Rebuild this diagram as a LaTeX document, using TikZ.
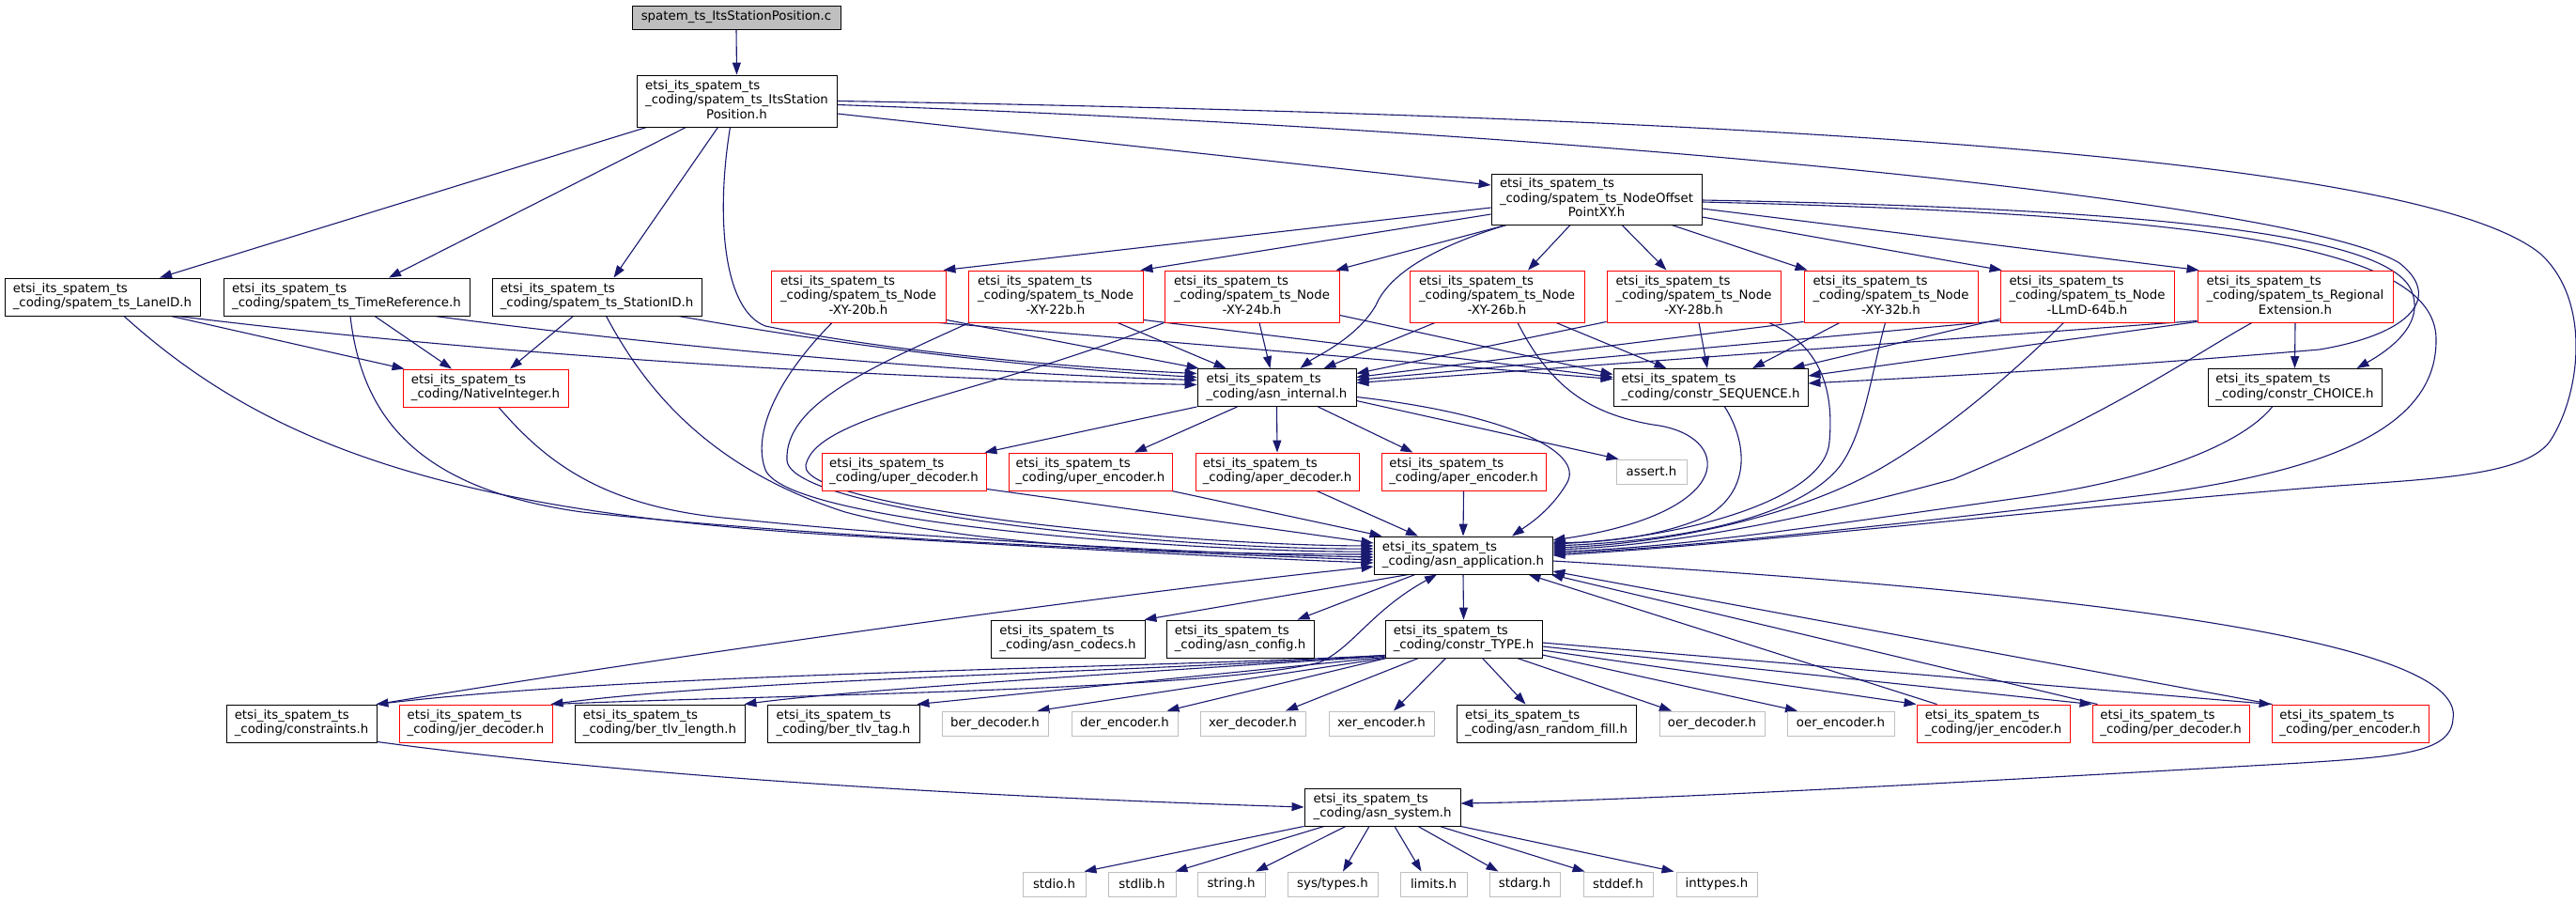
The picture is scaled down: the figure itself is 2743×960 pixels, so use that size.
\documentclass[tikz,border=0pt]{standalone}
\usepackage{fontspec}
\setmainfont{DejaVu Sans}
\usetikzlibrary{arrows.meta}
\definecolor{edgec}{HTML}{191970}
\definecolor{gbord}{HTML}{BFBFBF}
\definecolor{rootfill}{HTML}{BFBFBF}
\definecolor{redc}{HTML}{FF0000}
\newcommand\et{etsi\_its\_spatem\_ts}
\newcommand\lblB[2]{\begin{tabular}{@{}l@{}}#1\\\multicolumn{1}{@{}c@{}}{#2}\end{tabular}}
\newcommand\lblC[3]{\begin{tabular}{@{}l@{}}#1\\#2\\\multicolumn{1}{@{}c@{}}{#3}\end{tabular}}
\pgfdeclarelayer{bg}
\pgfsetlayers{bg,main}
\tikzset{
  bx/.style={rectangle, draw=black, fill=white, line width=0.9pt, inner sep=0pt, font=\fontsize{13.33pt}{15.5pt}\selectfont},
  rbx/.style={bx, draw=redc},
  gbx/.style={bx, draw=gbord},
  rootbx/.style={bx, fill=rootfill},
  wh/.style 2 args={minimum width=#1pt, minimum height=#2pt},
  conn/.style={draw=edgec, line width=1.1pt, -{Triangle[length=13pt,width=9pt]}},
}
\begin{document}
\begin{tikzpicture}[x=1pt,y=-1pt]
\useasboundingbox (0,0) rectangle (2743,960);
% nodes
\node[rootbx, wh={222}{25}] (R) at (784,18.5) {spatem\_ts\_ItsStationPosition.c};
\node[bx, wh={213}{55}] (ISP) at (784.5,107.5) {\lblC{\et}{\_coding/spatem\_ts\_ItsStation}{Position.h}};
\node[bx, wh={208}{40}] (LAN) at (109,316) {\lblB{\et}{\_coding/spatem\_ts\_LaneID.h}};
\node[bx, wh={262}{40}] (TR) at (369,316) {\lblB{\et}{\_coding/spatem\_ts\_TimeReference.h}};
\node[bx, wh={223}{40}] (SID) at (635.5,316) {\lblB{\et}{\_coding/spatem\_ts\_StationID.h}};
\node[bx, wh={224}{54}] (NOP) at (1700,212) {\lblC{\et}{\_coding/spatem\_ts\_NodeOffset}{PointXY.h}};
\node[rbx, wh={186}{55}] (X20) at (914,315.5) {\lblC{\et}{\_coding/spatem\_ts\_Node}{-XY-20b.h}};
\node[rbx, wh={186}{55}] (X22) at (1124,315.5) {\lblC{\et}{\_coding/spatem\_ts\_Node}{-XY-22b.h}};
\node[rbx, wh={186}{55}] (X24) at (1333,315.5) {\lblC{\et}{\_coding/spatem\_ts\_Node}{-XY-24b.h}};
\node[rbx, wh={186}{55}] (X26) at (1594,315.5) {\lblC{\et}{\_coding/spatem\_ts\_Node}{-XY-26b.h}};
\node[rbx, wh={185}{55}] (X28) at (1803.5,315.5) {\lblC{\et}{\_coding/spatem\_ts\_Node}{-XY-28b.h}};
\node[rbx, wh={185}{55}] (X32) at (2013.5,315.5) {\lblC{\et}{\_coding/spatem\_ts\_Node}{-XY-32b.h}};
\node[rbx, wh={185}{55}] (L64) at (2222.5,315.5) {\lblC{\et}{\_coding/spatem\_ts\_Node}{-LLmD-64b.h}};
\node[rbx, wh={208}{55}] (REG) at (2444,315.5) {\lblC{\et}{\_coding/spatem\_ts\_Regional}{Extension.h}};
\node[rbx, wh={176}{40}] (NI) at (517,413) {\lblB{\et}{\_coding/NativeInteger.h}};
\node[bx, wh={169}{40}] (AI) at (1359.5,412.5) {\lblB{\et}{\_coding/asn\_internal.h}};
\node[bx, wh={207}{40}] (SEQ) at (1821.5,412.5) {\lblB{\et}{\_coding/constr\_SEQUENCE.h}};
\node[bx, wh={185}{40}] (CHO) at (2443.5,412.5) {\lblB{\et}{\_coding/constr\_CHOICE.h}};
\node[rbx, wh={175}{40}] (UD) at (962.5,502) {\lblB{\et}{\_coding/uper\_decoder.h}};
\node[rbx, wh={174}{40}] (UE) at (1161,502) {\lblB{\et}{\_coding/uper\_encoder.h}};
\node[rbx, wh={174}{40}] (AD) at (1360,502) {\lblB{\et}{\_coding/aper\_decoder.h}};
\node[rbx, wh={175}{40}] (AE) at (1558.5,502) {\lblB{\et}{\_coding/aper\_encoder.h}};
\node[gbx, wh={75}{26}] (AS) at (1758.5,502) {assert.h};
\node[bx, wh={190}{40}] (AA) at (1558,591) {\lblB{\et}{\_coding/asn\_application.h}};
\node[bx, wh={164}{40}] (COD) at (1137,680) {\lblB{\et}{\_coding/asn\_codecs.h}};
\node[bx, wh={157}{40}] (CFG) at (1320.5,680) {\lblB{\et}{\_coding/asn\_config.h}};
\node[bx, wh={167}{40}] (TYPE) at (1558.5,680) {\lblB{\et}{\_coding/constr\_TYPE.h}};
\node[bx, wh={160}{40}] (CON) at (321,770) {\lblB{\et}{\_coding/constraints.h}};
\node[rbx, wh={163}{40}] (JD) at (506.5,770) {\lblB{\et}{\_coding/jer\_decoder.h}};
\node[bx, wh={181}{40}] (BTL) at (702.5,770) {\lblB{\et}{\_coding/ber\_tlv\_length.h}};
\node[bx, wh={162}{40}] (BTT) at (898,770) {\lblB{\et}{\_coding/ber\_tlv\_tag.h}};
\node[gbx, wh={113}{26}] (BD) at (1059.5,770) {ber\_decoder.h};
\node[gbx, wh={113}{26}] (DE) at (1197.5,770) {der\_encoder.h};
\node[gbx, wh={112}{26}] (XD) at (1334,770) {xer\_decoder.h};
\node[gbx, wh={112}{26}] (XE) at (1471,770) {xer\_encoder.h};
\node[bx, wh={191}{40}] (RF) at (1646.5,770) {\lblB{\et}{\_coding/asn\_random\_fill.h}};
\node[gbx, wh={112}{26}] (OD) at (1823,770) {oer\_decoder.h};
\node[gbx, wh={114}{26}] (OE) at (1960,770) {oer\_encoder.h};
\node[rbx, wh={163}{40}] (JE) at (2122.5,770) {\lblB{\et}{\_coding/jer\_encoder.h}};
\node[rbx, wh={167}{40}] (PD) at (2311.5,770) {\lblB{\et}{\_coding/per\_decoder.h}};
\node[rbx, wh={167}{40}] (PE) at (2502.5,770) {\lblB{\et}{\_coding/per\_encoder.h}};
\node[bx, wh={166}{40}] (SYS) at (1472,859) {\lblB{\et}{\_coding/asn\_system.h}};
\node[gbx, wh={67}{26}] (stdio) at (1122.5,941) {stdio.h};
\node[gbx, wh={72}{26}] (stdlib) at (1216,941) {stdlib.h};
\node[gbx, wh={72}{26}] (string) at (1311,941) {string.h};
\node[gbx, wh={96}{26}] (systypes) at (1419,941) {sys/types.h};
\node[gbx, wh={71}{26}] (limits) at (1526.5,941) {limits.h};
\node[gbx, wh={75}{26}] (stdarg) at (1623.5,941) {stdarg.h};
\node[gbx, wh={74}{26}] (stddef) at (1723,941) {stddef.h};
\node[gbx, wh={86}{26}] (inttypes) at (1828,941) {inttypes.h};
% edges
\begin{pgfonlayer}{bg}
\fill[white] (0,0) rectangle (2743,960);
\draw[conn] (R.south) -- (ISP.north);
\draw[conn] ([xshift=-96pt]ISP.south) -- ([xshift=61pt]LAN.north);
\draw[conn] ([xshift=-54pt]ISP.south) -- ([xshift=45pt]TR.north);
\draw[conn] ([xshift=-20pt]ISP.south) -- ([xshift=18pt]SID.north);
\draw[conn] ([xshift=-7pt]ISP.south) .. controls (762,230) and (770,330) .. (815,347) .. controls (950,375) and (1150,392) .. ([yshift=15pt]AI.west);
\draw[conn] ([yshift=-13.5pt]ISP.east) -- ([yshift=15pt]NOP.west);
\draw[conn] ([yshift=-4pt]ISP.east) .. controls (1700,140) and (2450,215) .. (2555,280) .. controls (2600,315) and (2570,355) .. (2470,372) .. controls (2200,395) and (2000,404) .. ([yshift=4.5pt]SEQ.east);
\draw[conn] (ISP.east) .. controls (2100,128) and (2600,185) .. (2705,270) .. controls (2760,320) and (2748,420) .. (2715,470) .. controls (2685,510) and (2570,510) .. (2450,520) .. controls (2150,545) and (1850,580) .. (AA.east);
% NodeOffsetPointXY
\draw[conn] ([yshift=-9pt]NOP.west) -- ([xshift=-3pt]X20.north east);
\draw[conn] ([yshift=-16pt]NOP.west) -- ([xshift=-3pt]X22.north east);
\draw[conn] ([xshift=-96pt]NOP.south) -- ([xshift=-4pt]X24.north east);
\draw[conn] ([xshift=-28pt]NOP.south) -- ([xshift=33pt]X26.north);
\draw[conn] ([xshift=27pt]NOP.south) -- ([xshift=-29pt]X28.north);
\draw[conn] ([xshift=80pt]NOP.south) -- ([xshift=4pt]X32.north west);
\draw[conn] ([yshift=-19pt]NOP.east) -- ([xshift=2pt]L64.north west);
\draw[conn] ([yshift=-10pt]NOP.east) -- ([xshift=2pt]REG.north west);
\draw[conn] ([yshift=-1pt]NOP.east) .. controls (2300,222) and (2545,250) .. (2568,310) .. controls (2582,345) and (2545,372) .. ([xshift=66pt]CHO.north);
\draw[conn] ([yshift=-3pt]NOP.east) .. controls (2350,228) and (2592,262) .. (2594,360) .. controls (2596,455) and (2480,500) .. (2300,525) .. controls (2050,555) and (1800,583) .. ([yshift=2pt]AA.east);
\draw[conn] ([xshift=-96pt]NOP.south) .. controls (1530,262) and (1480,290) .. (1465,325) .. controls (1445,360) and (1400,380) .. ([xshift=25pt]AI.north);
% Node-XY-20b
\draw[conn] ([yshift=3pt]X20.south east) -- ([xshift=2pt]AI.north west);
\draw[conn] ([xshift=-8pt]X20.south east) -- ([yshift=9pt]SEQ.west);
\draw[conn] ([xshift=-28pt]X20.south) .. controls (830,400) and (800,460) .. (815,500) .. controls (840,560) and (1300,588) .. ([yshift=4pt]AA.west);
% Node-XY-22b
\draw[conn] ([xshift=66pt]X22.south) -- ([xshift=-54pt]AI.north);
\draw[conn] ([yshift=3pt]X22.south east) -- ([yshift=11pt]SEQ.west);
\draw[conn] ([xshift=-92pt]X22.south) .. controls (930,390) and (835,430) .. (838,490) .. controls (842,545) and (1250,585) .. ([yshift=7pt]AA.west);
% Node-XY-24b
\draw[conn] ([xshift=8pt]X24.south) -- ([xshift=-7pt]AI.north);
\draw[conn] ([yshift=8pt]X24.south east) -- ([yshift=14pt]SEQ.west);
\draw[conn] (X24.south west) .. controls (1050,420) and (870,440) .. (858,495) .. controls (850,540) and (1250,580) .. ([yshift=10pt]AA.west);
% Node-XY-26b
\draw[conn] ([xshift=-66pt]X26.south) -- ([xshift=50pt]AI.north);
\draw[conn] ([xshift=63pt]X26.south) -- ([xshift=-47pt]SEQ.north);
\draw[conn] ([xshift=22pt]X26.south) .. controls (1650,410) and (1690,440) .. (1760,452) .. controls (1845,462) and (1855,545) .. ([yshift=16pt]AA.east);
% Node-XY-28b
\draw[conn] ([yshift=1pt]X28.south west) -- ([yshift=15pt]AI.east);
\draw[conn] ([xshift=5.5pt]X28.south) -- ([xshift=-3.5pt]SEQ.north);
\draw[conn] ([xshift=80pt]X28.south) .. controls (1945,370) and (1952,425) .. (1948,470) .. controls (1944,530) and (1800,572) .. ([yshift=12pt]AA.east);
% Node-XY-32b
\draw[conn] ([yshift=1pt]X32.south west) -- ([yshift=11pt]AI.east);
\draw[conn] ([xshift=-54.5pt]X32.south) -- ([xshift=44.5pt]SEQ.north);
\draw[conn] ([xshift=-6pt]X32.south) .. controls (1992,400) and (1985,460) .. (1960,495) .. controls (1920,548) and (1800,575) .. ([yshift=10pt]AA.east);
% Node-LLmD-64b
\draw[conn] ([yshift=2pt]L64.south west) -- ([yshift=8pt]AI.east);
\draw[conn] ([yshift=4pt]L64.south west) -- ([xshift=-17pt]SEQ.north east);
\draw[conn] ([xshift=-25pt]L64.south) .. controls (2140,400) and (2070,460) .. (2000,500) .. controls (1920,545) and (1790,578) .. ([yshift=8pt]AA.east);
% RegionalExtension
\draw[conn] ([yshift=2pt]REG.south west) -- ([yshift=5pt]AI.east);
\draw[conn] ([yshift=1pt]REG.south west) -- ([yshift=12.5pt]SEQ.east);
\draw[conn] ([xshift=-46pt]REG.south) .. controls (2340,375) and (2250,440) .. (2080,510) .. controls (1940,548) and (1790,580) .. ([yshift=6pt]AA.east);
\draw[conn] (REG.south) -- (CHO.north);
\draw[conn] ([xshift=-24pt]CHO.south) .. controls (2390,470) and (2300,510) .. (2150,530) .. controls (1950,558) and (1790,583) .. ([yshift=4pt]AA.east);
\draw[conn] ([xshift=15pt]SEQ.south) .. controls (1860,470) and (1865,520) .. (1820,548) .. controls (1770,572) and (1700,578) .. ([yshift=14pt]AA.east);
% asn_internal
\draw[conn] (AI.south west) -- ([xshift=-2pt]UD.north east);
\draw[conn] ([xshift=-42pt]AI.south) -- ([xshift=47pt]UE.north);
\draw[conn] (AI.south) -- (AD.north);
\draw[conn] ([xshift=44pt]AI.south) -- ([xshift=-54pt]AE.north);
\draw[conn] ([yshift=-14pt]AI.east) -- ([xshift=3pt]AS.north west);
\draw[conn] ([yshift=-10pt]AI.east) .. controls (1600,440) and (1690,480) .. (1668,515) .. controls (1650,545) and (1625,560) .. ([xshift=52pt]AA.north);
% LaneID, TimeReference, StationID, NativeInteger
\draw[conn] ([xshift=73pt]LAN.south) -- ([xshift=2pt]NI.north west);
\draw[conn] ([xshift=80pt]LAN.south) .. controls (500,375) and (900,402) .. ([yshift=3pt]AI.west);
\draw[conn] ([xshift=23pt]LAN.south) .. controls (280,470) and (470,545) .. (900,570) .. controls (1150,585) and (1350,595) .. ([yshift=-8pt]AA.west);
\draw[conn] ([xshift=30pt]TR.south) -- ([xshift=-36pt]NI.north);
\draw[conn] ([xshift=94pt]TR.south) .. controls (600,355) and (950,395) .. ([yshift=8pt]AI.west);
\draw[conn] ([xshift=4pt]TR.south) .. controls (385,440) and (440,520) .. (620,545) .. controls (900,575) and (1300,590) .. ([yshift=-5pt]AA.west);
\draw[conn] ([xshift=-25pt]SID.south) -- ([xshift=26pt]NI.north);
\draw[conn] ([xshift=10pt]SID.south) .. controls (690,420) and (760,500) .. (900,545) .. controls (1050,585) and (1300,590) .. ([yshift=1pt]AA.west);
\draw[conn] ([xshift=87pt]SID.south) .. controls (800,350) and (1000,385) .. ([yshift=11pt]AI.west);
\draw[conn] ([xshift=14pt]NI.south) .. controls (580,490) and (640,540) .. (780,552) .. controls (1000,575) and (1300,590) .. ([yshift=-2pt]AA.west);
% coders to asn_application
\draw[conn] ([yshift=2pt]UD.south east) -- ([yshift=13pt]AA.west);
\draw[conn] ([xshift=-1pt]UE.south east) -- ([xshift=9pt]AA.north west);
\draw[conn] ([xshift=42pt]AD.south) -- ([xshift=-48pt]AA.north);
\draw[conn] (AE.south) -- (AA.north);
% asn_application
\draw[conn] ([xshift=-58pt]AA.south) -- ([xshift=-1pt]COD.north east);
\draw[conn] ([xshift=-51pt]AA.south) -- ([xshift=-18pt]CFG.north east);
\draw[conn] (AA.south) -- (TYPE.north);
\draw[conn] ([yshift=-6pt]AA.east) .. controls (2300,635) and (2625,690) .. (2612,765) .. controls (2610,800) and (2560,805) .. (2450,812) .. controls (2100,832) and (1750,852) .. ([yshift=4pt]SYS.east);
% constraints
\draw[conn] (CON.north east) .. controls (700,700) and (1200,630) .. ([yshift=-12pt]AA.west);
\draw[conn] ([yshift=1pt]CON.south east) .. controls (700,830) and (1100,850) .. (SYS.west);
% constr_TYPE
\draw[conn] ([yshift=3pt]TYPE.south west) .. controls (1200,712) and (700,715) .. ([xshift=-1pt]CON.north east);
\draw[conn] ([yshift=3pt]TYPE.south west) .. controls (1200,716) and (800,722) .. ([xshift=-2pt]JD.north east);
\draw[conn] ([xshift=-1pt]JD.north east) .. controls (800,740) and (1280,736) .. (1405,705) .. controls (1440,690) and (1460,650) .. ([xshift=-28pt]AA.south);
\draw[conn] ([yshift=2pt]TYPE.south west) .. controls (1200,716) and (900,735) .. ([xshift=-1pt]BTL.north east);
\draw[conn] ([yshift=1pt]TYPE.south west) -- ([xshift=-3pt]BTT.north east);
\draw[conn] (TYPE.south west) -- ([xshift=45pt]BD.north);
\draw[conn] ([xshift=2pt]TYPE.south west) -- ([xshift=45pt]DE.north);
\draw[conn] ([xshift=-48pt]TYPE.south) -- ([xshift=35pt]XD.north);
\draw[conn] ([xshift=-19pt]TYPE.south) -- ([xshift=13pt]XE.north);
\draw[conn] ([xshift=20pt]TYPE.south) -- ([xshift=-22pt]RF.north);
\draw[conn] ([xshift=57pt]TYPE.south) -- ([xshift=-43pt]OD.north);
\draw[conn] ([yshift=-17pt]TYPE.east) -- ([xshift=-46pt]OE.north);
\draw[conn] ([yshift=-12pt]TYPE.east) -- (JE.north west);
\draw[conn] ([yshift=-8pt]TYPE.east) -- (PD.north west);
\draw[conn] ([yshift=-4pt]TYPE.east) -- (PE.north west);
\draw[conn] ([xshift=-60pt]JE.north) -- ([xshift=-26pt]AA.south east);
\draw[conn] ([xshift=-78pt]PD.north) -- ([xshift=-2pt]AA.south east);
\draw[conn] ([xshift=-83pt]PE.north) -- ([yshift=-17pt]AA.east);
% asn_system
\draw[conn] (SYS.south west) -- ([xshift=-2pt]stdio.north east);
\draw[conn] ([xshift=-62pt]SYS.south) -- ([xshift=-1pt]stdlib.north east);
\draw[conn] ([xshift=-39pt]SYS.south) -- ([xshift=26pt]string.north);
\draw[conn] ([xshift=-14pt]SYS.south) -- ([xshift=11pt]systypes.north);
\draw[conn] ([xshift=13pt]SYS.south) -- ([xshift=-13pt]limits.north);
\draw[conn] ([xshift=38pt]SYS.south) -- ([xshift=-28pt]stdarg.north);
\draw[conn] ([xshift=61pt]SYS.south) -- ([xshift=2pt]stddef.north west);
\draw[conn] (SYS.south east) -- ([xshift=-2pt]inttypes.north west);
\end{pgfonlayer}
\end{tikzpicture}
\end{document}
